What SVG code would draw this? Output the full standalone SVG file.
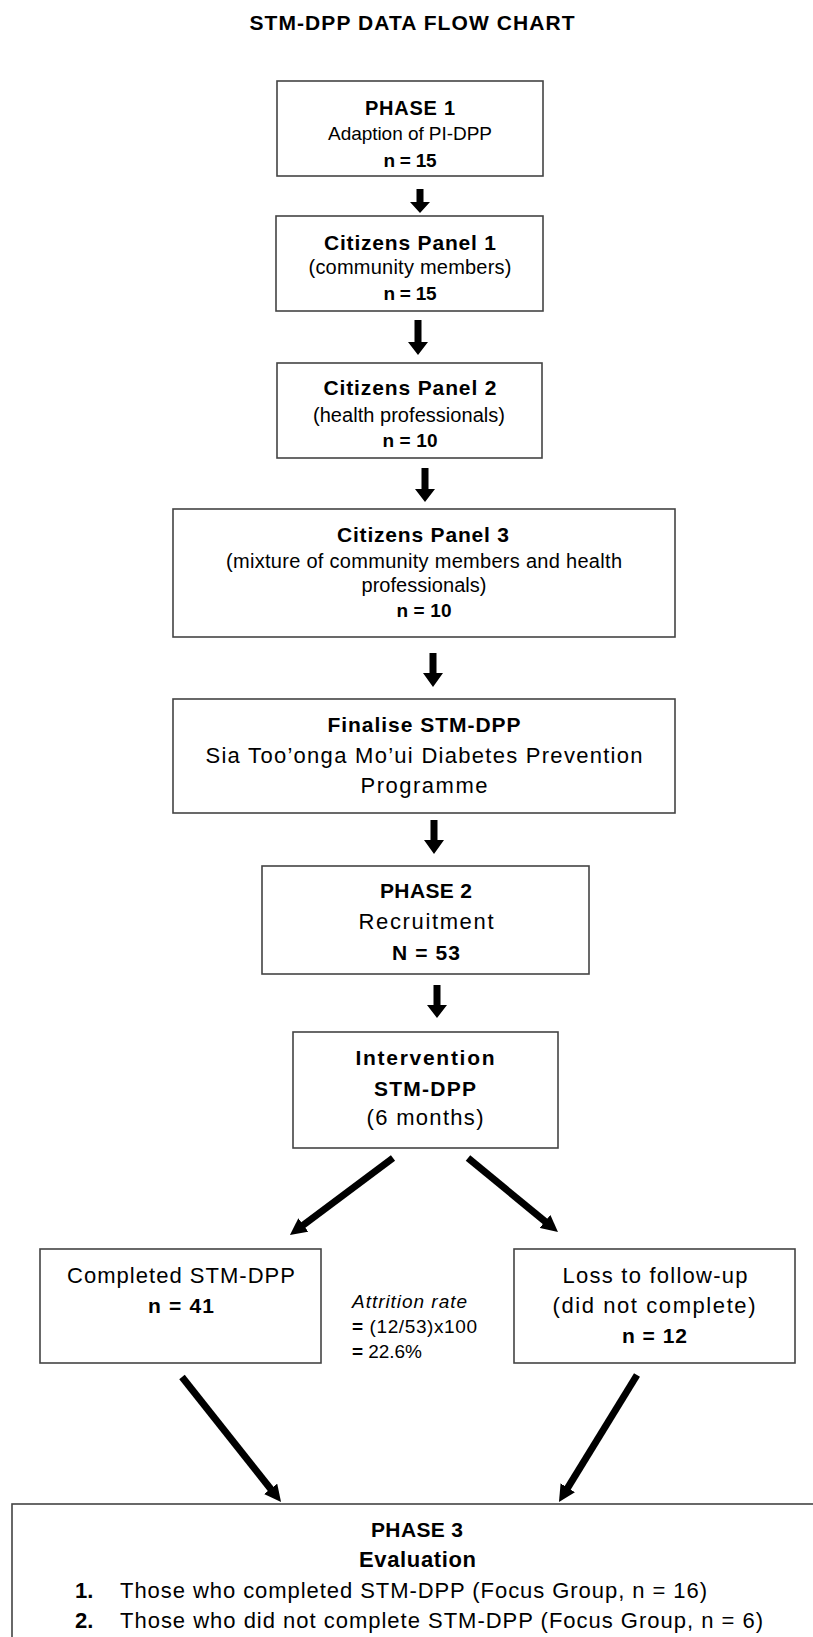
<svg xmlns="http://www.w3.org/2000/svg" width="813" height="1637" viewBox="0 0 813 1637">
<style>
text{font-family:"Liberation Sans",Arial,sans-serif;fill:#000;}
.c{text-anchor:middle;}
.b{font-weight:bold;}
.i{font-style:italic;}
.box{fill:#fff;stroke:#444;stroke-width:1.6;}
.dn{fill:#000;stroke:none;}
.dg{stroke:#000;stroke-width:7;fill:none;marker-end:url(#ah);}
</style>
<defs>
<marker id="ah" viewBox="0 0 10 10" refX="2" refY="5" markerWidth="2.4" markerHeight="2.4" orient="auto" markerUnits="strokeWidth">
<path d="M0,0 L10,5 L0,10 Z" fill="#000"/>
</marker>
</defs>
<rect width="813" height="1637" fill="#fff"/>

<g id="title">
<text class="c b" x="412" y="30" font-size="21" textLength="325" lengthAdjust="spacing">STM-DPP DATA FLOW CHART</text>
</g>

<g id="connectors">
<path class="dn" d="M416.5,189 H423.5 V202 H430 L420,213 L410,202 H416.5 Z"/>
<path class="dn" d="M414.5,320 H421.5 V342 H428 L418,355 L408,342 H414.5 Z"/>
<path class="dn" d="M421.5,468 H428.5 V489 H435 L425,502 L415,489 H421.5 Z"/>
<path class="dn" d="M429.5,653 H436.5 V673 H443 L433,687 L423,673 H429.5 Z"/>
<path class="dn" d="M430.5,820 H437.5 V840 H444 L434,854 L424,840 H430.5 Z"/>
<path class="dn" d="M433.5,985 H440.5 V1005 H447 L437,1018 L427,1005 H433.5 Z"/>
<line class="dg" x1="393" y1="1158" x2="300.7" y2="1227"/>
<line class="dg" x1="468" y1="1158" x2="547.6" y2="1223.5"/>
<line class="dg" x1="182" y1="1377" x2="272.7" y2="1491.5"/>
<line class="dg" x1="637" y1="1375" x2="566" y2="1490.6"/>
</g>

<g id="phase1">
<rect class="box" x="277" y="81" width="266" height="95"/>
<text class="c b" x="410" y="115" font-size="20" textLength="90" lengthAdjust="spacing">PHASE 1</text>
<text class="c" x="410" y="140" font-size="19" textLength="164" lengthAdjust="spacing">Adaption of PI-DPP</text>
<text class="c b" x="410" y="167" font-size="19" textLength="53" lengthAdjust="spacing">n = 15</text>
</g>

<g id="panel1">
<rect class="box" x="276" y="216" width="267" height="95"/>
<text class="c b" x="410" y="250" font-size="21" textLength="172" lengthAdjust="spacing">Citizens Panel 1</text>
<text class="c" x="410" y="274" font-size="20" textLength="203" lengthAdjust="spacing">(community members)</text>
<text class="c b" x="410" y="300" font-size="19" textLength="53" lengthAdjust="spacing">n = 15</text>
</g>

<g id="panel2">
<rect class="box" x="277" y="363" width="265" height="95"/>
<text class="c b" x="410" y="395" font-size="21" textLength="173" lengthAdjust="spacing">Citizens Panel 2</text>
<text class="c" x="409" y="422" font-size="20" textLength="192" lengthAdjust="spacing">(health professionals)</text>
<text class="c b" x="410" y="447" font-size="19" textLength="55" lengthAdjust="spacing">n = 10</text>
</g>

<g id="panel3">
<rect class="box" x="173" y="509" width="502" height="128"/>
<text class="c b" x="423" y="542" font-size="21" textLength="172" lengthAdjust="spacing">Citizens Panel 3</text>
<text class="c" x="424" y="568" font-size="20" textLength="396" lengthAdjust="spacing">(mixture of community members and health</text>
<text class="c" x="424" y="592" font-size="20" textLength="125" lengthAdjust="spacing">professionals)</text>
<text class="c b" x="424" y="617" font-size="19" textLength="55" lengthAdjust="spacing">n = 10</text>
</g>

<g id="finalise">
<rect class="box" x="173" y="699" width="502" height="114"/>
<text class="c b" x="424" y="732" font-size="21" textLength="193" lengthAdjust="spacing">Finalise STM-DPP</text>
<text class="c" x="424" y="763" font-size="22" textLength="437" lengthAdjust="spacing">Sia Too’onga Mo’ui Diabetes Prevention</text>
<text class="c" x="424" y="793" font-size="22" textLength="127" lengthAdjust="spacing">Programme</text>
</g>

<g id="phase2">
<rect class="box" x="262" y="866" width="327" height="108"/>
<text class="c b" x="426" y="898" font-size="21" textLength="92" lengthAdjust="spacing">PHASE 2</text>
<text class="c" x="426" y="929" font-size="22" textLength="135" lengthAdjust="spacing">Recruitment</text>
<text class="c b" x="426" y="960" font-size="21" textLength="68" lengthAdjust="spacing">N = 53</text>
</g>

<g id="intervention">
<rect class="box" x="293" y="1032" width="265" height="116"/>
<text class="c b" x="425" y="1065" font-size="21" textLength="139" lengthAdjust="spacing">Intervention</text>
<text class="c b" x="425" y="1096" font-size="21" textLength="102" lengthAdjust="spacing">STM-DPP</text>
<text class="c" x="425" y="1125" font-size="22" textLength="117" lengthAdjust="spacing">(6 months)</text>
</g>

<g id="completed">
<rect class="box" x="40" y="1249" width="281" height="114"/>
<text class="c" x="181" y="1283" font-size="22" textLength="228" lengthAdjust="spacing">Completed STM-DPP</text>
<text class="c b" x="181" y="1313" font-size="21" textLength="66" lengthAdjust="spacing">n = 41</text>
</g>

<g id="attrition">
<text class="i" x="352" y="1308" font-size="19" textLength="115" lengthAdjust="spacing">Attrition rate</text>
<text x="352" y="1333" font-size="19" textLength="125" lengthAdjust="spacing"><tspan class="b">=</tspan> (12/53)x100</text>
<text x="352" y="1358" font-size="19" textLength="70" lengthAdjust="spacing"><tspan class="b">=</tspan> 22.6%</text>
</g>

<g id="loss">
<rect class="box" x="514" y="1249" width="281" height="114"/>
<text class="c" x="655" y="1283" font-size="22" textLength="185" lengthAdjust="spacing">Loss to follow-up</text>
<text class="c" x="654" y="1313" font-size="22" textLength="203" lengthAdjust="spacing">(did not complete)</text>
<text class="c b" x="654.5" y="1343" font-size="21" textLength="65" lengthAdjust="spacing">n = 12</text>
</g>

<g id="phase3">
<rect class="box" x="12" y="1504" width="830" height="160"/>
<text class="c b" x="417" y="1537" font-size="21" textLength="92" lengthAdjust="spacing">PHASE 3</text>
<text class="c b" x="417.5" y="1567" font-size="22" textLength="117" lengthAdjust="spacing">Evaluation</text>
<text class="b" x="75" y="1598" font-size="22">1.</text>
<text x="120" y="1598" font-size="22" textLength="587" lengthAdjust="spacing">Those who completed STM-DPP (Focus Group, n = 16)</text>
<text class="b" x="75" y="1628" font-size="22">2.</text>
<text x="120" y="1628" font-size="22" textLength="643" lengthAdjust="spacing">Those who did not complete STM-DPP (Focus Group, n = 6)</text>
</g>
</svg>
